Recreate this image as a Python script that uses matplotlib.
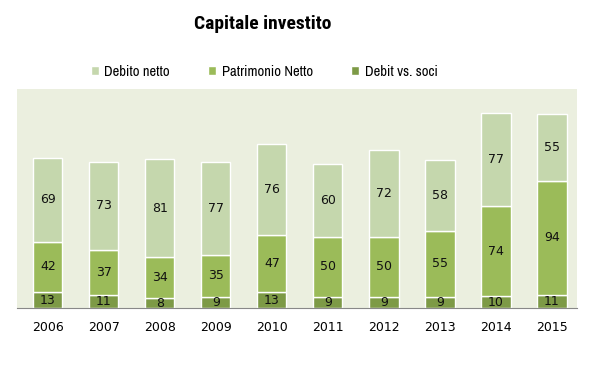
import numpy as np
import matplotlib.pyplot as plt

years = ["2006", "2007", "2008", "2009", "2010", "2011", "2012", "2013", "2014", "2015"]
debit_soci = [13, 11, 8, 9, 13, 9, 9, 9, 10, 11]
patrimonio = [42, 37, 34, 35, 47, 50, 50, 55, 74, 94]
debito_netto = [69, 73, 81, 77, 76, 60, 72, 58, 77, 55]

C_LIGHT = "#c5d7ad"
C_MID = "#9bbb59"
C_DARK = "#7d9a46"
NARROW = ["Archivo Narrow", "DejaVu Sans"]

plt.rcParams['font.family'] = ['DejaVu Sans']

fig = plt.figure(figsize=(5.96, 3.65), dpi=100)
ax = fig.add_axes([0.0285, 0.156, 0.94, 0.6])
ax.set_facecolor("#ebefdf")

x = np.arange(len(years))
w = 0.52
b1 = ax.bar(x, debit_soci, w, color=C_DARK, edgecolor="white", linewidth=1, label="Debit vs. soci")
b2 = ax.bar(x, patrimonio, w, bottom=debit_soci, color=C_MID, edgecolor="white", linewidth=1, label="Patrimonio Netto")
bottom3 = np.array(debit_soci) + np.array(patrimonio)
b3 = ax.bar(x, debito_netto, w, bottom=bottom3, color=C_LIGHT, edgecolor="white", linewidth=1, label="Debito netto")

for bars in (b1, b2, b3):
    ax.bar_label(bars, label_type="center", fontsize=9, color="#111111")

ax.set_xlim(-0.55, 9.45)
ax.set_ylim(0, 181)
ax.set_xticks(x)
ax.set_xticklabels(years, fontsize=9)
ax.tick_params(axis="x", length=0, pad=9)
ax.set_yticks([])
for s in ["top", "right", "left"]:
    ax.spines[s].set_visible(False)
ax.spines["bottom"].set_color("#888888")

fig.text(0.44, 0.935, "Capitale investito", ha="center", va="center", fontsize=14,
         fontweight="bold", family=["Roboto Condensed", "DejaVu Sans"])

handles = [b3, b2, b1]
fig.legend(handles, [h.get_label() for h in handles], loc="center", bbox_to_anchor=(0.443, 0.803),
           ncol=3, frameon=False, handlelength=0.55, handleheight=0.55, columnspacing=2.6,
           handletextpad=0.4, prop={"family": NARROW, "size": 10.5})

fig.savefig("out.png", dpi=100)
